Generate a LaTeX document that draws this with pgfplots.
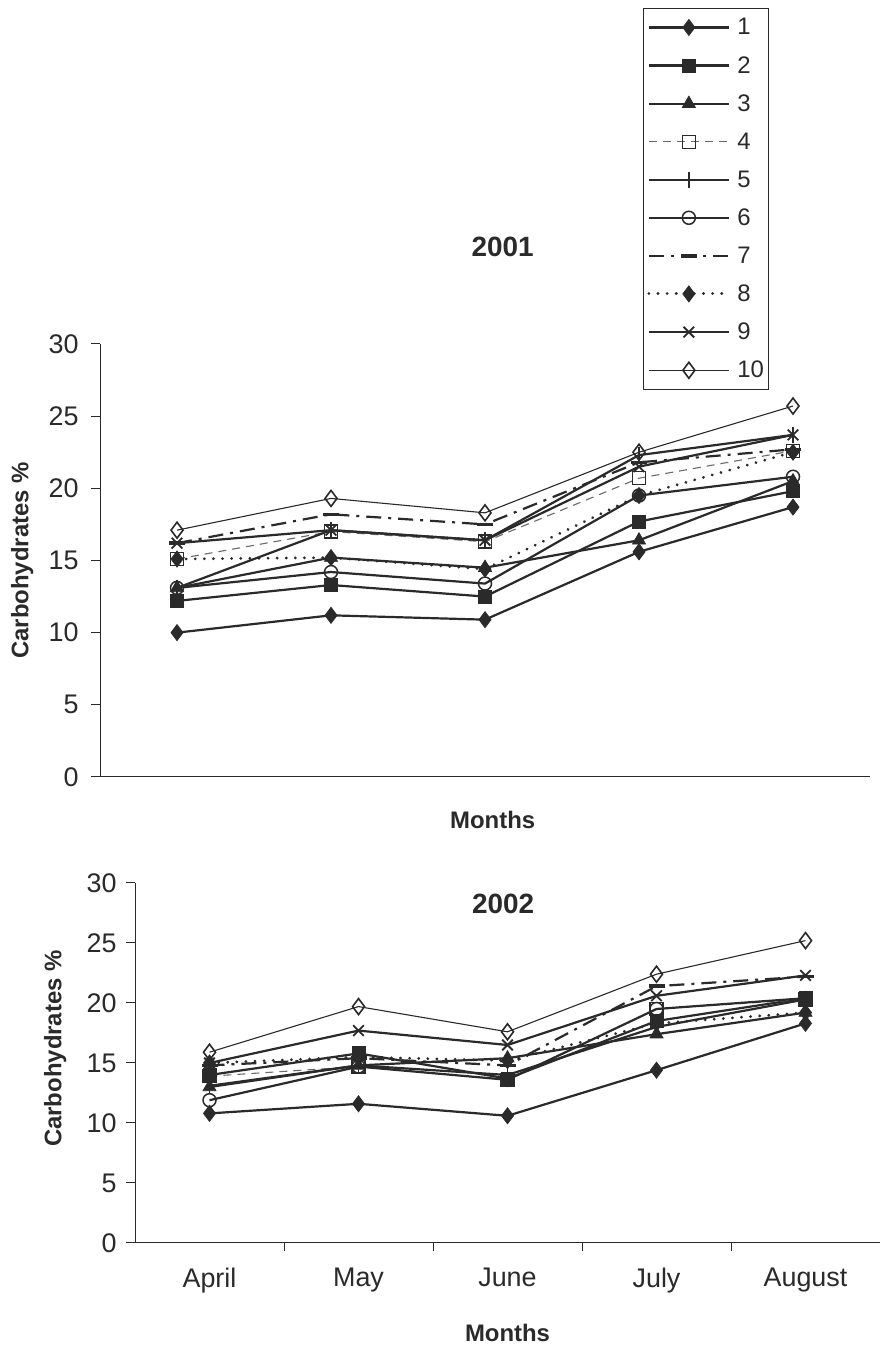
\documentclass[border=0pt]{standalone}
\usepackage{fontspec}
\setmainfont{Liberation Sans}
\usepackage{pgfplots}
\pgfplotsset{compat=1.18}
\usetikzlibrary{plotmarks}
\definecolor{ink}{HTML}{2A2A2A}
\pgfplotsset{
 s1/.style={ink, line width=2.2bp, mark=diamond*, mark size=8bp, mark options={solid, fill=ink, line width=0.8bp}},
 s2/.style={ink, line width=2.2bp, mark=square*, mark size=6.5bp, mark options={solid, fill=ink, line width=0.8bp}},
 s3/.style={ink, line width=2.2bp, mark=triangle*, mark size=7.5bp, mark options={solid, fill=ink, line width=0.8bp}},
 s4/.style={ink!70, line width=1.1bp, dash pattern=on 8bp off 6bp, mark=square, mark size=6.5bp, mark options={solid, fill=white, line width=1.5bp, ink}},
 s5/.style={ink, line width=2.2bp, mark=|, mark size=8bp, mark options={solid, line width=1.6bp}},
 s6/.style={ink, line width=2.2bp, mark=o, mark size=6.5bp, mark options={solid, fill=white, line width=1.5bp}},
 s7/.style={ink, line width=2.2bp, dash pattern=on 15bp off 7bp on 3bp off 7bp, mark=-, mark size=8bp, mark options={solid, line width=3.5bp}},
 s8/.style={ink, line width=3bp, line cap=round, dash pattern=on 0.1bp off 9bp, mark=diamond*, mark size=8bp, mark options={solid, fill=ink, line width=0.8bp}},
 s9/.style={ink, line width=2.2bp, mark=x, mark size=7.5bp, mark options={solid, line width=1.8bp}},
 s10/.style={ink, line width=1.1bp, mark=diamond, mark size=8bp, mark options={solid, fill=white, line width=1.6bp}},
 carb/.style={
  scale only axis, axis lines=left, axis line style={-, line width=1bp, ink},
  ymin=0, ymax=30, ytick={0,5,...,30}, xmin=-0.5, xmax=4.5,
  tick style={ink, line width=1bp}, major tick length=9bp, tick align=outside,
  /pgf/number format/assume math mode=true,
  ticklabel style={font=\fontsize{27}{27}\selectfont, text=ink},
  label style={font=\bfseries\fontsize{24}{24}\selectfont, text=ink},
  ylabel={Carbohydrates \%}, xlabel={Months},
  clip=false,
 },
}
\begin{document}
\begin{tikzpicture}[x=1bp,y=1bp]
\useasboundingbox[fill=white] (0,0) rectangle (881,1348);
% ---------------- 2001 ----------------
\begin{axis}[carb, at={(100bp,571bp)}, anchor=south west, width=770bp, height=433bp,
  xtick=\empty,
  yticklabel style={xshift=-9bp},
  title={2001}, title style={at={(0.523,1.21)}, anchor=center, font=\bfseries\fontsize{28}{28}\selectfont, text=ink},
  ylabel style={at={(-0.101,0.5)}, anchor=center},
  xlabel style={at={(0.51,-0.099)}, anchor=center},
  legend style={at={(0.705,1.776)}, anchor=north west, draw=ink, line width=1bp,
    font=\fontsize{24}{24}\selectfont, text=ink, row sep=18bp, column sep=6bp, inner xsep=4bp, inner ysep=9bp,
    nodes={inner sep=1bp}},
  legend cell align=left,
  legend image code/.code={\draw[mark repeat=2,mark phase=2,#1] plot coordinates {(0bp,0bp)(40bp,0bp)(80bp,0bp)};},
]
\addplot[s1] coordinates {(0,10.0) (1,11.2) (2,10.9) (3,15.6) (4,18.7)};
\addplot[s2] coordinates {(0,12.2) (1,13.3) (2,12.5) (3,17.7) (4,19.8)};
\addplot[s3] coordinates {(0,13.1) (1,15.2) (2,14.5) (3,16.4) (4,20.5)};
\addplot[s4] coordinates {(0,15.1) (1,17.0) (2,16.3) (3,20.7) (4,22.6)};
\addplot[s5] coordinates {(0,13.1) (1,17.1) (2,16.4) (3,22.3) (4,23.7)};
\addplot[s6] coordinates {(0,13.1) (1,14.2) (2,13.4) (3,19.5) (4,20.8)};
\addplot[s7] coordinates {(0,16.2) (1,18.2) (2,17.5) (3,21.8) (4,22.7)};
\addplot[s8] coordinates {(0,15.1) (1,15.2) (2,14.4) (3,19.5) (4,22.5)};
\addplot[s9] coordinates {(0,16.2) (1,17.1) (2,16.4) (3,21.5) (4,23.7)};
\addplot[s10] coordinates {(0,17.1) (1,19.3) (2,18.3) (3,22.5) (4,25.7)};
\legend{1,2,3,4,5,6,7,8,9,10}
\end{axis}
% ---------------- 2002 ----------------
\begin{axis}[carb, at={(135bp,105bp)}, anchor=south west, width=745bp, height=360bp,
  xtick={0,1,2,3,4}, xticklabels={April,May,June,July,August},
  major x tick style={draw=none},
  minor xtick={0.5,1.5,2.5,3.5}, minor tick length=8bp, minor tick style={ink, line width=1bp},
  xticklabel style={yshift=-12bp},
  yticklabel style={xshift=-6bp},
  title={2002}, title style={at={(0.494,0.925)}, anchor=center, font=\bfseries\fontsize{28}{28}\selectfont, text=ink},
  ylabel style={at={(-0.107,0.54)}, anchor=center},
  xlabel style={at={(0.5,-0.25)}, anchor=center},
]
\addplot[s1] coordinates {(0,10.8) (1,11.6) (2,10.6) (3,14.4) (4,18.3)};
\addplot[s2] coordinates {(0,14.0) (1,15.8) (2,13.7) (3,18.5) (4,20.4)};
\addplot[s3] coordinates {(0,13.0) (1,14.8) (2,15.4) (3,17.4) (4,19.2)};
\addplot[s4] coordinates {(0,13.9) (1,14.7) (2,13.6) (3,19.5) (4,20.3)};
\addplot[s5] coordinates {(0,13.1) (1,14.8) (2,14.0) (3,18.0) (4,20.3)};
\addplot[s6] coordinates {(0,11.9) (1,14.7) (2,13.6) (3,19.5) (4,20.4)};
\addplot[s7] coordinates {(0,14.8) (1,15.4) (2,14.8) (3,21.4) (4,22.2)};
\addplot[s8] coordinates {(0,15.0) (1,15.5) (2,15.2) (3,18.3) (4,19.2)};
\addplot[s9] coordinates {(0,15.0) (1,17.7) (2,16.5) (3,20.6) (4,22.3)};
\addplot[s10] coordinates {(0,15.9) (1,19.7) (2,17.6) (3,22.4) (4,25.2)};
\end{axis}
\end{tikzpicture}
\end{document}
